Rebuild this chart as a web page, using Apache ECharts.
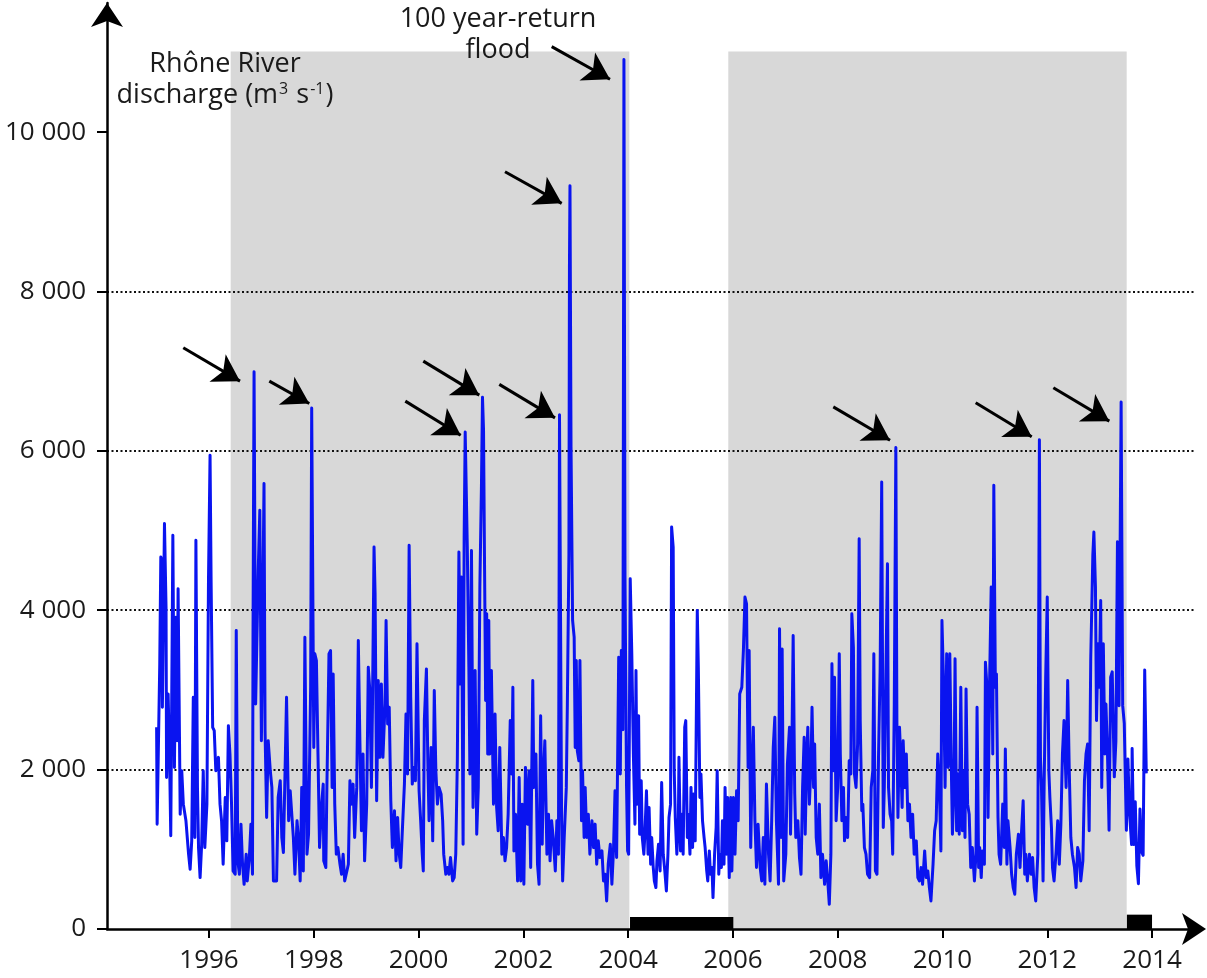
<!DOCTYPE html>
<html>
<head>
<meta charset="utf-8">
<script src="https://cdn.jsdelivr.net/npm/echarts@6/dist/echarts.min.js"></script>
<style>html,body{margin:0;padding:0;background:#fff}#c{width:1207px;height:978px}</style>
</head>
<body>
<div id="c"></div>
<script>
// decimal year of each sample
const dates = [
1995.00,1995.01,1995.06,1995.08,1995.10,1995.11,1995.15,1995.18,1995.19,1995.22,
1995.25,1995.27,1995.31,1995.34,1995.37,1995.39,1995.41,1995.45,1995.48,1995.51,
1995.56,1995.61,1995.64,1995.67,1995.70,1995.73,1995.75,1995.78,1995.80,1995.83,
1995.86,1995.89,1995.92,1995.96,1995.99,1996.02,1996.04,1996.07,1996.10,1996.13,
1996.18,1996.21,1996.24,1996.27,1996.31,1996.34,1996.37,1996.40,1996.43,1996.46,
1996.50,1996.52,1996.55,1996.58,1996.61,1996.64,1996.67,1996.71,1996.73,1996.77,
1996.80,1996.83,1996.84,1996.86,1996.89,1996.94,1996.97,1997.00,1997.05,1997.07,
1997.10,1997.13,1997.17,1997.20,1997.23,1997.26,1997.29,1997.32,1997.36,1997.39,
1997.42,1997.46,1997.48,1997.52,1997.55,1997.61,1997.64,1997.68,1997.71,1997.74,
1997.77,1997.80,1997.83,1997.87,1997.90,1997.94,1997.96,1998.00,1998.02,1998.05,
1998.08,1998.11,1998.15,1998.18,1998.19,1998.23,1998.25,1998.29,1998.32,1998.35,
1998.37,1998.40,1998.43,1998.46,1998.50,1998.53,1998.56,1998.59,1998.62,1998.66,
1998.69,1998.72,1998.75,1998.78,1998.82,1998.85,1998.88,1998.91,1998.94,1998.97,
1999.01,1999.04,1999.07,1999.10,1999.12,1999.15,1999.17,1999.20,1999.23,1999.26,
1999.29,1999.32,1999.36,1999.38,1999.41,1999.44,1999.47,1999.50,1999.54,1999.57,
1999.60,1999.63,1999.66,1999.69,1999.73,1999.76,1999.79,1999.82,1999.85,1999.88,
1999.91,1999.94,1999.97,2000.01,2000.04,2000.07,2000.09,2000.11,2000.15,2000.18,
2000.20,2000.24,2000.27,2000.30,2000.33,2000.36,2000.39,2000.43,2000.46,2000.48,
2000.52,2000.55,2000.58,2000.61,2000.65,2000.68,2000.71,2000.74,2000.77,2000.80,
2000.82,2000.85,2000.87,2000.89,2000.93,2000.96,2000.98,2001.01,2001.04,2001.08,
2001.11,2001.14,2001.17,2001.20,2001.22,2001.24,2001.26,2001.28,2001.30,2001.32,
2001.34,2001.36,2001.39,2001.43,2001.46,2001.49,2001.52,2001.55,2001.59,2001.62,
2001.65,2001.68,2001.71,2001.75,2001.78,2001.80,2001.82,2001.85,2001.89,2001.92,
2001.95,2001.98,2002.01,2002.04,2002.08,2002.11,2002.14,2002.18,2002.20,2002.24,
2002.27,2002.30,2002.33,2002.36,2002.38,2002.41,2002.45,2002.48,2002.51,2002.54,
2002.57,2002.61,2002.64,2002.67,2002.69,2002.73,2002.75,2002.78,2002.82,2002.84,
2002.87,2002.88,2002.89,2002.91,2002.94,2002.97,2002.99,2003.01,2003.03,2003.06,
2003.08,2003.11,2003.13,2003.16,2003.18,2003.21,2003.24,2003.27,2003.31,2003.34,
2003.37,2003.40,2003.43,2003.46,2003.50,2003.53,2003.56,2003.59,2003.62,2003.66,
2003.69,2003.72,2003.75,2003.78,2003.82,2003.85,2003.87,2003.90,2003.92,2003.94,
2003.97,2003.99,2004.01,2004.04,2004.07,2004.10,2004.13,2004.15,2004.17,2004.20,
2004.22,2004.25,2004.27,2004.30,2004.32,2004.35,2004.38,2004.40,2004.43,2004.45,
2004.48,2004.50,2004.53,2004.55,2004.58,2004.61,2004.64,2004.67,2004.70,2004.73,
2004.76,2004.78,2004.81,2004.83,2004.86,2004.88,2004.90,2004.93,2004.96,2004.97,
2005.00,2005.03,2005.05,2005.08,2005.10,2005.13,2005.15,2005.18,2005.20,2005.23,
2005.25,2005.28,2005.32,2005.34,2005.37,2005.39,2005.42,2005.45,2005.47,2005.50,
2005.52,2005.55,2005.57,2005.60,2005.62,2005.65,2005.68,2005.70,2005.73,2005.75,
2005.78,2005.80,2005.83,2005.85,2005.88,2005.90,2005.93,2005.96,2005.98,2006.01,
2006.04,2006.07,2006.10,2006.13,2006.17,2006.20,2006.23,2006.26,2006.29,2006.31,
2006.34,2006.36,2006.39,2006.42,2006.45,2006.48,2006.52,2006.55,2006.58,2006.61,
2006.64,2006.68,2006.71,2006.74,2006.77,2006.80,2006.83,2006.87,2006.89,2006.92,
2006.94,2006.97,2007.01,2007.04,2007.08,2007.10,2007.13,2007.15,2007.18,2007.20,
2007.24,2007.27,2007.30,2007.33,2007.36,2007.38,2007.41,2007.43,2007.46,2007.49,
2007.51,2007.54,2007.56,2007.59,2007.62,2007.65,2007.68,2007.71,2007.75,2007.78,
2007.81,2007.84,2007.87,2007.89,2007.92,2007.94,2007.97,2008.00,2008.03,2008.05,
2008.08,2008.11,2008.13,2008.16,2008.19,2008.22,2008.25,2008.27,2008.30,2008.32,
2008.35,2008.38,2008.41,2008.43,2008.46,2008.48,2008.51,2008.54,2008.57,2008.61,
2008.64,2008.67,2008.69,2008.72,2008.75,2008.78,2008.81,2008.84,2008.87,2008.89,
2008.92,2008.95,2008.97,2009.00,2009.03,2009.05,2009.08,2009.11,2009.13,2009.15,
2009.18,2009.20,2009.23,2009.25,2009.28,2009.31,2009.34,2009.37,2009.40,2009.43,
2009.46,2009.50,2009.53,2009.56,2009.59,2009.62,2009.66,2009.69,2009.72,2009.75,
2009.78,2009.82,2009.85,2009.88,2009.91,2009.94,2009.97,2009.99,2010.02,2010.05,
2010.08,2010.11,2010.14,2010.17,2010.19,2010.22,2010.24,2010.27,2010.29,2010.32,
2010.35,2010.38,2010.40,2010.43,2010.45,2010.48,2010.51,2010.54,2010.57,2010.61,
2010.64,2010.66,2010.69,2010.71,2010.74,2010.76,2010.80,2010.82,2010.85,2010.87,
2010.90,2010.93,2010.96,2010.98,2011.01,2011.03,2011.06,2011.08,2011.11,2011.15,
2011.18,2011.20,2011.23,2011.25,2011.29,2011.32,2011.35,2011.38,2011.41,2011.45,
2011.48,2011.51,2011.54,2011.57,2011.59,2011.62,2011.66,2011.69,2011.72,2011.75,
2011.78,2011.82,2011.85,2011.87,2011.89,2011.92,2011.94,2011.97,2012.00,2012.03,
2012.05,2012.08,2012.10,2012.13,2012.17,2012.20,2012.23,2012.26,2012.29,2012.32,
2012.36,2012.39,2012.42,2012.45,2012.48,2012.52,2012.55,2012.58,2012.61,2012.64,
2012.68,2012.71,2012.74,2012.77,2012.80,2012.83,2012.87,2012.89,2012.92,2012.94,
2012.97,2012.99,2013.02,2013.04,2013.07,2013.10,2013.12,2013.15,2013.18,2013.21,
2013.24,2013.28,2013.31,2013.34,2013.37,2013.41,2013.44,2013.47,2013.51,2013.54,
2013.57,2013.61,2013.62,2013.65,2013.68,2013.71,2013.74,2013.77,2013.80,2013.83,
2013.86,2013.89
];
// Rhône River discharge (m3 s-1) at each sample
const discharge = [
2531,1316,3327,4668,4626,2782,5087,4039,1902,2950,
2028,1169,4940,2028,3913,2363,4270,1441,1986,1567,
1358,939,750,1106,2908,1148,4877,1777,1022,645,
1064,1986,1022,1567,4374,5946,4374,2531,2489,1986,
2154,1567,1358,813,1651,1106,2552,2196,1567,729,
687,3746,855,687,1316,813,561,939,603,897,
1316,687,3704,6992,2824,4500,5254,2363,5590,2489,
1399,2363,1986,1777,603,582,603,1651,1860,1148,
960,2258,2908,1358,1735,1148,687,1358,1106,603,
1777,729,3662,939,1190,3034,6539,2279,3453,3369,
2196,1022,1567,1818,855,771,1777,3453,3494,1777,
3201,1567,939,1022,813,687,939,603,582,813,
1860,1567,1818,1148,1777,3620,2363,1232,2196,855,
1567,3285,2992,1777,2782,4793,4207,1609,3117,2154,
3075,2154,2824,3872,2573,2782,1609,1022,1483,855,
1399,939,771,1232,1818,2698,1944,4814,2908,1818,
2028,1860,3578,1735,1358,939,729,2615,3264,1986,
1358,2279,1106,2992,1986,1567,1777,1693,1358,939,
687,771,687,897,603,645,939,2112,4730,3075,
4416,1064,4919,6236,4793,3285,1944,4751,1525,3243,
1190,1777,4291,5548,6672,6260,4500,2866,3955,2196,
3872,2196,3243,1567,2698,1525,1232,2279,939,1148,
855,1022,1441,2615,1944,3034,980,1441,603,1902,
603,1567,561,2028,1316,1986,771,3117,1777,2196,
813,561,2677,1064,1860,2363,939,1441,855,1358,
1148,729,1358,939,6454,1358,603,1148,1777,2824,
4710,8300,9327,6050,3872,3662,2279,3369,2237,2112,
3369,1358,1986,1148,1777,1148,1441,939,1358,1022,
1316,813,1106,897,980,603,687,352,813,1064,
561,980,1735,897,3411,1944,3494,2500,10910,4416,
1777,980,939,4395,3453,2196,1316,3243,1567,2677,
1190,1860,1148,939,1190,1735,939,1525,813,1148,
771,603,520,855,1064,729,1839,939,729,478,
939,1399,1567,5045,4793,1986,1399,939,1399,2154,
980,1441,939,2531,2615,1148,1441,939,1777,1022,
1693,1106,3997,3285,1651,1944,1358,1148,1022,729,
603,980,687,771,394,939,1274,1986,687,939,
771,1358,813,1777,939,1651,645,1651,729,1651,
939,1735,1358,2950,3034,3494,4165,4081,2028,3494,
1022,1777,2531,1358,771,1316,771,603,1148,561,
1818,939,603,1358,2279,2656,1358,561,3767,1148,
3515,603,939,2070,2531,1190,2531,3683,1693,1148,
1358,897,687,1777,2405,1190,2196,2531,1567,2070,
2782,1777,2321,1148,939,1567,645,939,561,855,
603,310,939,3327,1986,3159,1358,1777,3453,2196,
1358,1777,1106,1399,1148,2112,1944,3955,3536,1944,
1777,2321,4898,2615,1483,1567,1022,939,687,645,
1777,1986,3453,729,687,2196,3243,5610,1274,1777,
3201,4584,1777,1441,1358,939,2824,6043,2615,1399,
2531,2196,1525,2363,1777,2196,1358,1567,1148,1441,
939,1106,645,603,771,561,980,645,729,520,
352,813,1232,1358,2196,1777,980,3872,3117,1777,
3453,2028,3453,1986,1190,1777,3390,1232,1944,1190,
3034,1232,1986,1148,3013,1567,1441,771,1022,603,
939,2782,771,1022,645,980,813,3348,3034,1399,
3117,4291,2196,5569,3034,3201,1399,939,813,1567,
1022,2258,813,1358,1022,687,520,436,939,1190,
771,1232,1609,687,939,603,939,687,897,520,
352,939,6140,2154,1777,603,1777,3159,4165,1986,
1651,1274,771,603,980,1358,813,1316,2196,2615,
1777,3117,1986,1148,939,771,520,1022,939,603,
855,1860,2196,2321,1232,3390,4689,4982,4291,2615,
3578,3034,4123,1777,3578,2196,2824,2196,1238,3160,
3227,1909,2356,4859,2803,6613,2803,2579,1238,2132,
1462,1059,2266,1059,1596,791,568,1506,970,925,
3250,1953
];
const yTicks = [0, 2000, 4000, 6000, 8000, 10000];
const xTicks = [1996, 1998, 2000, 2002, 2004, 2006, 2008, 2010, 2012, 2014];
// grey study periods [start, end] and their top
const greyPeriods = [[1996.414, 2004.023], [2005.912, 2013.516]];
const greyTop = 11010;
// black bars on the time axis [start, end, height]
const blackBars = [[2004.036, 2006.008, 150], [2013.52, 2014.0, 180]];
// flood arrows: [tailYear, tailQ, tipYear, tipQ]
const arrows = [
  [1995.509, 7293, 1996.592, 6875],
  [1997.151, 6875, 1997.914, 6595],
  [1999.747, 6624, 2000.804, 6197],
  [2000.090, 7126, 2001.159, 6699],
  [2001.541, 6834, 2002.604, 6414],
  [2001.650, 9503, 2002.732, 9106],
  [2002.541, 11072, 2003.654, 10663],
  [2007.916, 6552, 2008.999, 6134],
  [2010.634, 6603, 2011.703, 6176],
  [2012.116, 6791, 2013.185, 6373]
];

const FONT = '"Open Sans", "Noto Sans", sans-serif';
const TXT = '#1a1a1a';
const fmtThousands = v => String(v).replace(/\B(?=(\d{3})+(?!\d))/g, ' ');

const chart = echarts.init(document.getElementById('c'), null, {renderer: 'canvas'});
const option = {
  animation: false,
  backgroundColor: '#fff',
  textStyle: {fontFamily: FONT},
  grid: {left: 107, right: 13, top: 3, bottom: 49, containLabel: false, outerBoundsMode: 'none'},
  xAxis: {
    type: 'value', min: 1994.053, max: 2014.801,
    axisLine: {show: true, onZero: false, symbol: ['none', 'arrow'], symbolSize: [24, 24], symbolOffset: [0, 12],
      lineStyle: {color: '#000', width: 2.5}},
    axisTick: {show: true, customValues: xTicks, length: 9, lineStyle: {color: '#000', width: 2}},
    axisLabel: {customValues: xTicks, formatter: v => String(v), fontSize: 26, fontFamily: FONT, color: TXT, margin: 19},
    splitLine: {show: false}
  },
  yAxis: {
    type: 'value', min: 0, max: 11620, interval: 2000,
    axisLine: {show: true, onZero: false, symbol: ['none', 'arrow'], symbolSize: [24, 24],
      lineStyle: {color: '#000', width: 2.5}},
    axisTick: {show: true, customValues: yTicks, length: 10, lineStyle: {color: '#000', width: 2}},
    axisLabel: {customValues: yTicks, formatter: v => fmtThousands(v), fontSize: 26, fontFamily: FONT, color: TXT, margin: 21},
    splitLine: {show: true, showMinLine: false, showMaxLine: false,
      lineStyle: {color: '#111', width: 1.8, type: [2, 2.5]}}
  },
  series: [
    {
      type: 'line', data: [], silent: true,
      markArea: {
        silent: true, z: -1,
        data: greyPeriods.map(p => [
          {coord: [p[0], 0], itemStyle: {color: '#d8d8d8'}},
          {coord: [p[1], greyTop]}
        ]).concat(blackBars.map(b => [
          {coord: [b[0], 0], itemStyle: {color: '#000'}},
          {coord: [b[1], b[2]]}
        ]))
      }
    },
    {
      type: 'line', silent: true, z: 3,
      data: dates.map((d, i) => [d, discharge[i]]),
      showSymbol: false, symbol: 'none',
      lineStyle: {color: '#0a14f0', width: 3, join: 'round'}
    },
    {
      type: 'line', data: [], silent: true,
      markLine: {
        silent: true, z: 6,
        symbol: ['none', 'arrow'], symbolSize: [24, 26],
        label: {show: false},
        lineStyle: {color: '#000', width: 3, type: 'solid'},
        emphasis: {disabled: true},
        data: arrows.map(a => [{coord: [a[0], a[1]]}, {coord: [a[2], a[3]]}])
      }
    }
  ],
  graphic: [
    {type: 'text', x: 225, y: 64, silent: true,
      style: {text: 'Rhône River', fontSize: 27, fontFamily: FONT, fill: TXT, align: 'center', verticalAlign: 'middle'}},
    {type: 'text', x: 225, y: 95, silent: true,
      style: {text: '{a|discharge (m}{s|3}{a| s}{s|-1}{a|)}', align: 'center', verticalAlign: 'middle',
        rich: {
          a: {fontSize: 27, fontFamily: FONT, fill: TXT, lineHeight: 30},
          s: {fontSize: 16, fontFamily: FONT, fill: TXT, lineHeight: 16, verticalAlign: 'top', padding: [1, 1, 0, 1]}
        }}},
    {type: 'text', x: 498, y: 19, silent: true,
      style: {text: '100 year-return', fontSize: 27, fontFamily: FONT, fill: TXT, align: 'center', verticalAlign: 'middle'}},
    {type: 'text', x: 498, y: 50, silent: true,
      style: {text: 'flood', fontSize: 27, fontFamily: FONT, fill: TXT, align: 'center', verticalAlign: 'middle'}}
  ]
};
chart.setOption(option);
</script>
</body>
</html>
